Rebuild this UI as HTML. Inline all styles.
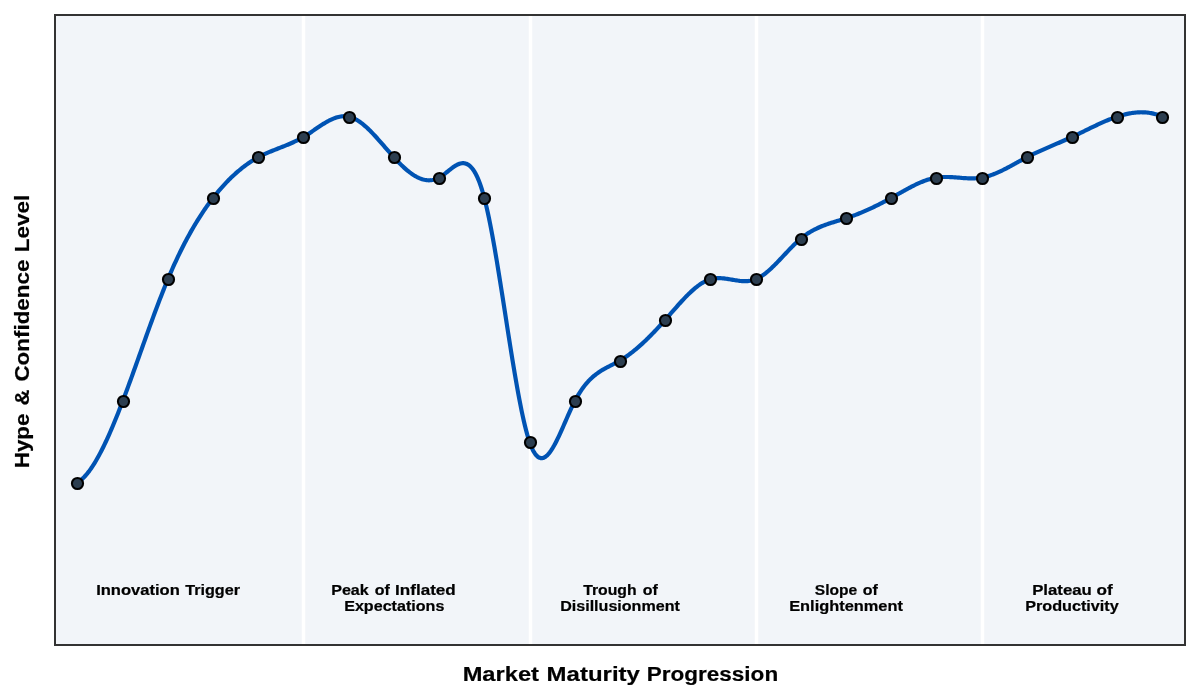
<!DOCTYPE html>
<html><head><meta charset="utf-8"><title>Hype Cycle - Market Maturity Progression</title>
<style>
html,body{margin:0;padding:0;background:#fff;width:1200px;height:700px;overflow:hidden}
svg{display:block}
text{font-family:"Liberation Sans",sans-serif;font-weight:bold;font-size:100px;fill:#000;stroke:#000;stroke-width:1.5px}
text.ax{stroke-width:1.0px}
</style></head><body>
<svg width="1200" height="700" viewBox="0 0 1200 700">
<rect x="0" y="0" width="1200" height="700" fill="#fff"/>
<rect x="54" y="14" width="1132" height="632" fill="#f2f5f9"/>
<rect x="301.76" y="16" width="3.47" height="628" fill="#fff"/>
<rect x="528.76" y="16" width="3.47" height="628" fill="#fff"/>
<rect x="754.76" y="16" width="3.47" height="628" fill="#fff"/>
<rect x="980.76" y="16" width="3.47" height="628" fill="#fff"/>
<polyline points="77.45,482.57 78.58,481.85 79.71,481.05 80.84,480.16 81.97,479.18 83.10,478.12 84.23,476.98 85.36,475.76 86.49,474.47 87.62,473.09 88.75,471.64 89.88,470.12 91.01,468.53 92.14,466.86 93.27,465.13 94.40,463.33 95.53,461.46 96.66,459.54 97.79,457.54 98.92,455.49 100.05,453.38 101.18,451.21 102.31,448.99 103.44,446.71 104.57,444.38 105.70,442.00 106.84,439.57 107.97,437.09 109.10,434.57 110.23,432.00 111.36,429.39 112.49,426.73 113.62,424.04 114.75,421.31 115.88,418.54 117.01,415.74 118.14,412.90 119.27,410.03 120.40,407.13 121.53,404.21 122.66,401.25 123.79,398.27 124.92,395.27 126.05,392.24 127.18,389.20 128.31,386.13 129.44,383.05 130.57,379.95 131.70,376.84 132.83,373.71 133.96,370.58 135.09,367.43 136.22,364.28 137.35,361.12 138.48,357.95 139.61,354.78 140.74,351.61 141.87,348.45 143.00,345.28 144.13,342.11 145.26,338.96 146.39,335.80 147.52,332.66 148.65,329.53 149.78,326.40 150.91,323.29 152.04,320.20 153.17,317.12 154.30,314.05 155.43,311.01 156.56,307.99 157.69,304.99 158.82,302.02 159.95,299.07 161.08,296.15 162.22,293.25 163.35,290.39 164.48,287.56 165.61,284.76 166.74,282.00 167.87,279.28 169.00,276.59 170.13,273.94 171.26,271.33 172.39,268.76 173.52,266.22 174.65,263.72 175.78,261.26 176.91,258.83 178.04,256.44 179.17,254.09 180.30,251.77 181.43,249.48 182.56,247.23 183.69,245.01 184.82,242.82 185.95,240.67 187.08,238.55 188.21,236.46 189.34,234.40 190.47,232.38 191.60,230.39 192.73,228.43 193.86,226.49 194.99,224.59 196.12,222.72 197.25,220.88 198.38,219.06 199.51,217.28 200.64,215.52 201.77,213.79 202.90,212.09 204.03,210.42 205.16,208.77 206.29,207.15 207.42,205.56 208.55,203.99 209.68,202.44 210.81,200.92 211.94,199.43 213.07,197.96 214.20,196.52 215.33,195.09 216.46,193.70 217.59,192.32 218.73,190.97 219.86,189.64 220.99,188.33 222.12,187.05 223.25,185.79 224.38,184.56 225.51,183.34 226.64,182.15 227.77,180.98 228.90,179.83 230.03,178.71 231.16,177.60 232.29,176.52 233.42,175.46 234.55,174.42 235.68,173.40 236.81,172.41 237.94,171.43 239.07,170.48 240.20,169.54 241.33,168.63 242.46,167.73 243.59,166.86 244.72,166.01 245.85,165.18 246.98,164.36 248.11,163.57 249.24,162.80 250.37,162.04 251.50,161.31 252.63,160.60 253.76,159.90 254.89,159.22 256.02,158.56 257.15,157.92 258.28,157.30 259.41,156.70 260.54,156.12 261.67,155.55 262.80,154.99 263.93,154.45 265.06,153.93 266.19,153.41 267.32,152.91 268.45,152.42 269.58,151.94 270.71,151.47 271.84,151.00 272.97,150.54 274.10,150.09 275.24,149.64 276.37,149.19 277.50,148.75 278.63,148.31 279.76,147.87 280.89,147.43 282.02,146.98 283.15,146.54 284.28,146.09 285.41,145.63 286.54,145.18 287.67,144.71 288.80,144.24 289.93,143.76 291.06,143.27 292.19,142.77 293.32,142.26 294.45,141.73 295.58,141.19 296.71,140.64 297.84,140.07 298.97,139.49 300.10,138.89 301.23,138.27 302.36,137.63 303.49,136.97 304.62,136.29 305.75,135.60 306.88,134.88 308.01,134.15 309.14,133.41 310.27,132.66 311.40,131.90 312.53,131.13 313.66,130.36 314.79,129.59 315.92,128.82 317.05,128.05 318.18,127.28 319.31,126.53 320.44,125.78 321.57,125.05 322.70,124.33 323.83,123.62 324.96,122.94 326.09,122.27 327.22,121.63 328.35,121.01 329.48,120.42 330.61,119.86 331.75,119.33 332.88,118.83 334.01,118.37 335.14,117.95 336.27,117.56 337.40,117.22 338.53,116.93 339.66,116.68 340.79,116.48 341.92,116.33 343.05,116.24 344.18,116.20 345.31,116.22 346.44,116.30 347.57,116.44 348.70,116.65 349.83,116.92 350.96,117.25 352.09,117.65 353.22,118.11 354.35,118.63 355.48,119.20 356.61,119.83 357.74,120.51 358.87,121.24 360.00,122.02 361.13,122.84 362.26,123.71 363.39,124.62 364.52,125.57 365.65,126.55 366.78,127.58 367.91,128.63 369.04,129.72 370.17,130.83 371.30,131.97 372.43,133.14 373.56,134.33 374.69,135.54 375.82,136.77 376.95,138.02 378.08,139.28 379.21,140.56 380.34,141.84 381.47,143.13 382.60,144.43 383.73,145.73 384.86,147.04 385.99,148.34 387.12,149.65 388.25,150.94 389.39,152.24 390.52,153.52 391.65,154.80 392.78,156.06 393.91,157.30 395.04,158.53 396.17,159.75 397.30,160.94 398.43,162.11 399.56,163.26 400.69,164.38 401.82,165.48 402.95,166.55 404.08,167.60 405.21,168.61 406.34,169.59 407.47,170.54 408.60,171.45 409.73,172.33 410.86,173.17 411.99,173.97 413.12,174.73 414.25,175.45 415.38,176.13 416.51,176.76 417.64,177.34 418.77,177.88 419.90,178.37 421.03,178.80 422.16,179.19 423.29,179.51 424.42,179.79 425.55,180.01 426.68,180.16 427.81,180.26 428.94,180.30 430.07,180.28 431.20,180.19 432.33,180.03 433.46,179.81 434.59,179.52 435.72,179.15 436.85,178.72 437.98,178.21 439.11,177.63 440.24,176.98 441.37,176.25 442.50,175.48 443.63,174.65 444.76,173.79 445.90,172.90 447.03,172.00 448.16,171.08 449.29,170.18 450.42,169.28 451.55,168.41 452.68,167.57 453.81,166.78 454.94,166.03 456.07,165.36 457.20,164.75 458.33,164.23 459.46,163.80 460.59,163.47 461.72,163.25 462.85,163.16 463.98,163.20 465.11,163.39 466.24,163.72 467.37,164.22 468.50,164.89 469.63,165.74 470.76,166.79 471.89,168.04 473.02,169.50 474.15,171.18 475.28,173.09 476.41,175.25 477.54,177.66 478.67,180.33 479.80,183.27 480.93,186.50 482.06,190.01 483.19,193.83 484.32,197.96 485.45,202.41 486.58,207.16 487.71,212.20 488.84,217.51 489.97,223.07 491.10,228.86 492.23,234.87 493.36,241.09 494.49,247.48 495.62,254.04 496.75,260.75 497.88,267.60 499.01,274.55 500.14,281.60 501.27,288.73 502.41,295.92 503.54,303.16 504.67,310.42 505.80,317.69 506.93,324.96 508.06,332.20 509.19,339.39 510.32,346.53 511.45,353.59 512.58,360.56 513.71,367.41 514.84,374.13 515.97,380.71 517.10,387.13 518.23,393.36 519.36,399.39 520.49,405.21 521.62,410.80 522.75,416.13 523.88,421.20 525.01,425.98 526.14,430.46 527.27,434.62 528.40,438.44 529.53,441.91 530.66,445.01 531.79,447.75 532.92,450.14 534.05,452.20 535.18,453.93 536.31,455.35 537.44,456.46 538.57,457.29 539.70,457.84 540.83,458.12 541.96,458.15 543.09,457.94 544.22,457.49 545.35,456.83 546.48,455.96 547.61,454.89 548.74,453.64 549.87,452.22 551.00,450.64 552.13,448.91 553.26,447.04 554.39,445.05 555.52,442.94 556.65,440.74 557.78,438.44 558.92,436.07 560.05,433.63 561.18,431.13 562.31,428.60 563.44,426.03 564.57,423.44 565.70,420.85 566.83,418.26 567.96,415.69 569.09,413.14 570.22,410.64 571.35,408.18 572.48,405.79 573.61,403.48 574.74,401.25 575.87,399.12 577.00,397.08 578.13,395.14 579.26,393.29 580.39,391.52 581.52,389.83 582.65,388.23 583.78,386.70 584.91,385.25 586.04,383.87 587.17,382.56 588.30,381.31 589.43,380.13 590.56,379.00 591.69,377.93 592.82,376.91 593.95,375.95 595.08,375.03 596.21,374.15 597.34,373.32 598.47,372.52 599.60,371.76 600.73,371.03 601.86,370.33 602.99,369.66 604.12,369.01 605.25,368.38 606.38,367.76 607.51,367.16 608.64,366.57 609.77,365.99 610.90,365.41 612.03,364.84 613.16,364.26 614.30,363.68 615.43,363.09 616.56,362.49 617.69,361.87 618.82,361.24 619.95,360.59 621.08,359.92 622.21,359.23 623.34,358.51 624.47,357.78 625.60,357.02 626.73,356.24 627.86,355.44 628.99,354.62 630.12,353.78 631.25,352.92 632.38,352.04 633.51,351.15 634.64,350.23 635.77,349.30 636.90,348.35 638.03,347.38 639.16,346.40 640.29,345.40 641.42,344.38 642.55,343.35 643.68,342.30 644.81,341.23 645.94,340.16 647.07,339.06 648.20,337.96 649.33,336.84 650.46,335.71 651.59,334.56 652.72,333.40 653.85,332.23 654.98,331.05 656.11,329.85 657.24,328.65 658.37,327.43 659.50,326.21 660.63,324.97 661.76,323.73 662.89,322.47 664.02,321.21 665.15,319.94 666.28,318.66 667.41,317.37 668.54,316.08 669.67,314.78 670.81,313.48 671.94,312.19 673.07,310.89 674.20,309.60 675.33,308.31 676.46,307.02 677.59,305.75 678.72,304.48 679.85,303.23 680.98,301.99 682.11,300.76 683.24,299.55 684.37,298.35 685.50,297.17 686.63,296.02 687.76,294.88 688.89,293.77 690.02,292.69 691.15,291.63 692.28,290.60 693.41,289.60 694.54,288.63 695.67,287.70 696.80,286.80 697.93,285.93 699.06,285.10 700.19,284.32 701.32,283.57 702.45,282.87 703.58,282.21 704.71,281.60 705.84,281.03 706.97,280.52 708.10,280.05 709.23,279.64 710.36,279.28 711.49,278.97 712.62,278.72 713.75,278.52 714.88,278.36 716.01,278.25 717.14,278.18 718.27,278.14 719.40,278.15 720.53,278.18 721.66,278.24 722.79,278.33 723.92,278.44 725.05,278.58 726.18,278.73 727.32,278.89 728.45,279.07 729.58,279.26 730.71,279.45 731.84,279.64 732.97,279.84 734.10,280.03 735.23,280.22 736.36,280.40 737.49,280.56 738.62,280.71 739.75,280.85 740.88,280.96 742.01,281.05 743.14,281.12 744.27,281.15 745.40,281.16 746.53,281.13 747.66,281.06 748.79,280.95 749.92,280.80 751.05,280.60 752.18,280.35 753.31,280.05 754.44,279.69 755.57,279.28 756.70,278.80 757.83,278.27 758.96,277.68 760.09,277.04 761.22,276.34 762.35,275.60 763.48,274.81 764.61,273.98 765.74,273.10 766.87,272.19 768.00,271.24 769.13,270.25 770.26,269.23 771.39,268.19 772.52,267.11 773.65,266.01 774.78,264.89 775.91,263.75 777.04,262.60 778.17,261.42 779.30,260.24 780.43,259.05 781.56,257.84 782.69,256.64 783.83,255.43 784.96,254.22 786.09,253.01 787.22,251.81 788.35,250.61 789.48,249.42 790.61,248.25 791.74,247.09 792.87,245.95 794.00,244.82 795.13,243.72 796.26,242.64 797.39,241.59 798.52,240.57 799.65,239.58 800.78,238.62 801.91,237.70 803.04,236.81 804.17,235.96 805.30,235.14 806.43,234.35 807.56,233.59 808.69,232.87 809.82,232.17 810.95,231.50 812.08,230.85 813.21,230.23 814.34,229.64 815.47,229.07 816.60,228.52 817.73,227.99 818.86,227.48 819.99,226.99 821.12,226.51 822.25,226.05 823.38,225.61 824.51,225.18 825.64,224.77 826.77,224.37 827.90,223.98 829.03,223.59 830.16,223.22 831.29,222.85 832.42,222.50 833.55,222.14 834.68,221.79 835.81,221.45 836.94,221.10 838.07,220.76 839.20,220.42 840.34,220.07 841.47,219.72 842.60,219.37 843.73,219.02 844.86,218.66 845.99,218.29 847.12,217.92 848.25,217.53 849.38,217.14 850.51,216.74 851.64,216.34 852.77,215.92 853.90,215.50 855.03,215.08 856.16,214.64 857.29,214.20 858.42,213.75 859.55,213.29 860.68,212.83 861.81,212.36 862.94,211.88 864.07,211.40 865.20,210.91 866.33,210.41 867.46,209.91 868.59,209.40 869.72,208.88 870.85,208.36 871.98,207.83 873.11,207.29 874.24,206.75 875.37,206.21 876.50,205.65 877.63,205.09 878.76,204.53 879.89,203.96 881.02,203.38 882.15,202.80 883.28,202.22 884.41,201.62 885.54,201.03 886.67,200.42 887.80,199.81 888.93,199.20 890.06,198.58 891.19,197.96 892.32,197.33 893.45,196.70 894.58,196.07 895.71,195.43 896.85,194.79 897.98,194.15 899.11,193.51 900.24,192.87 901.37,192.23 902.50,191.60 903.63,190.97 904.76,190.34 905.89,189.72 907.02,189.10 908.15,188.49 909.28,187.88 910.41,187.29 911.54,186.70 912.67,186.12 913.80,185.56 914.93,185.00 916.06,184.46 917.19,183.92 918.32,183.41 919.45,182.90 920.58,182.42 921.71,181.94 922.84,181.49 923.97,181.05 925.10,180.63 926.23,180.23 927.36,179.85 928.49,179.49 929.62,179.16 930.75,178.84 931.88,178.55 933.01,178.28 934.14,178.04 935.27,177.82 936.40,177.63 937.53,177.47 938.66,177.33 939.79,177.22 940.92,177.13 942.05,177.06 943.18,177.01 944.31,176.98 945.44,176.97 946.57,176.97 947.70,176.99 948.83,177.03 949.96,177.07 951.09,177.13 952.22,177.19 953.36,177.27 954.49,177.35 955.62,177.43 956.75,177.52 957.88,177.61 959.01,177.70 960.14,177.79 961.27,177.88 962.40,177.97 963.53,178.05 964.66,178.13 965.79,178.20 966.92,178.26 968.05,178.31 969.18,178.35 970.31,178.37 971.44,178.39 972.57,178.38 973.70,178.36 974.83,178.32 975.96,178.27 977.09,178.19 978.22,178.09 979.35,177.96 980.48,177.81 981.61,177.63 982.74,177.43 983.87,177.20 985.00,176.94 986.13,176.65 987.26,176.35 988.39,176.02 989.52,175.66 990.65,175.29 991.78,174.89 992.91,174.48 994.04,174.04 995.17,173.59 996.30,173.12 997.43,172.63 998.56,172.13 999.69,171.62 1000.82,171.09 1001.95,170.55 1003.08,170.00 1004.21,169.43 1005.34,168.86 1006.47,168.28 1007.60,167.69 1008.73,167.09 1009.87,166.49 1011.00,165.88 1012.13,165.26 1013.26,164.65 1014.39,164.03 1015.52,163.41 1016.65,162.78 1017.78,162.16 1018.91,161.54 1020.04,160.92 1021.17,160.31 1022.30,159.70 1023.43,159.09 1024.56,158.49 1025.69,157.89 1026.82,157.30 1027.95,156.72 1029.08,156.15 1030.21,155.59 1031.34,155.03 1032.47,154.48 1033.60,153.94 1034.73,153.40 1035.86,152.87 1036.99,152.34 1038.12,151.82 1039.25,151.31 1040.38,150.80 1041.51,150.29 1042.64,149.79 1043.77,149.29 1044.90,148.79 1046.03,148.30 1047.16,147.81 1048.29,147.32 1049.42,146.83 1050.55,146.35 1051.68,145.87 1052.81,145.38 1053.94,144.90 1055.07,144.42 1056.20,143.94 1057.33,143.45 1058.46,142.97 1059.59,142.48 1060.72,142.00 1061.85,141.51 1062.98,141.02 1064.11,140.53 1065.24,140.03 1066.38,139.53 1067.51,139.03 1068.64,138.52 1069.77,138.01 1070.90,137.49 1072.03,136.97 1073.16,136.45 1074.29,135.92 1075.42,135.38 1076.55,134.85 1077.68,134.30 1078.81,133.76 1079.94,133.21 1081.07,132.66 1082.20,132.11 1083.33,131.56 1084.46,131.00 1085.59,130.45 1086.72,129.90 1087.85,129.34 1088.98,128.79 1090.11,128.24 1091.24,127.69 1092.37,127.15 1093.50,126.60 1094.63,126.06 1095.76,125.53 1096.89,125.00 1098.02,124.47 1099.15,123.95 1100.28,123.43 1101.41,122.92 1102.54,122.41 1103.67,121.92 1104.80,121.43 1105.93,120.94 1107.06,120.47 1108.19,120.00 1109.32,119.55 1110.45,119.10 1111.58,118.66 1112.71,118.24 1113.84,117.82 1114.97,117.42 1116.10,117.03 1117.23,116.65 1118.36,116.28 1119.49,115.92 1120.62,115.58 1121.75,115.26 1122.88,114.94 1124.02,114.65 1125.15,114.37 1126.28,114.10 1127.41,113.85 1128.54,113.62 1129.67,113.40 1130.80,113.20 1131.93,113.02 1133.06,112.86 1134.19,112.72 1135.32,112.60 1136.45,112.49 1137.58,112.41 1138.71,112.35 1139.84,112.31 1140.97,112.29 1142.10,112.29 1143.23,112.32 1144.36,112.37 1145.49,112.44 1146.62,112.54 1147.75,112.66 1148.88,112.80 1150.01,112.97 1151.14,113.17 1152.27,113.39 1153.40,113.64 1154.53,113.92 1155.66,114.22 1156.79,114.55 1157.92,114.91 1159.05,115.30 1160.18,115.72 1161.31,116.17 1162.44,116.65" fill="none" stroke="#0053b3" stroke-width="4.17" stroke-linejoin="round" stroke-linecap="butt"/>
<g fill="#2c3e50" stroke="#000" stroke-width="2.08">
<circle cx="77.50" cy="483.50" r="5.55"/>
<circle cx="123.50" cy="401.50" r="5.55"/>
<circle cx="168.50" cy="279.50" r="5.55"/>
<circle cx="213.50" cy="198.50" r="5.55"/>
<circle cx="258.50" cy="157.50" r="5.55"/>
<circle cx="303.50" cy="137.50" r="5.55"/>
<circle cx="349.50" cy="117.50" r="5.55"/>
<circle cx="394.50" cy="157.50" r="5.55"/>
<circle cx="439.50" cy="178.50" r="5.55"/>
<circle cx="484.50" cy="198.50" r="5.55"/>
<circle cx="530.50" cy="442.50" r="5.55"/>
<circle cx="575.50" cy="401.50" r="5.55"/>
<circle cx="620.50" cy="361.50" r="5.55"/>
<circle cx="665.50" cy="320.50" r="5.55"/>
<circle cx="710.50" cy="279.50" r="5.55"/>
<circle cx="756.50" cy="279.50" r="5.55"/>
<circle cx="801.50" cy="239.50" r="5.55"/>
<circle cx="846.50" cy="218.50" r="5.55"/>
<circle cx="891.50" cy="198.50" r="5.55"/>
<circle cx="936.50" cy="178.50" r="5.55"/>
<circle cx="982.50" cy="178.50" r="5.55"/>
<circle cx="1027.50" cy="157.50" r="5.55"/>
<circle cx="1072.50" cy="137.50" r="5.55"/>
<circle cx="1117.50" cy="117.50" r="5.55"/>
<circle cx="1162.50" cy="117.50" r="5.55"/>
</g>
<rect x="55" y="15" width="1130" height="630" fill="none" stroke="#333333" stroke-width="2"/>
<g style="opacity:0.999">
<text transform="matrix(0.16545 0 0 0.14500 96.142 595.000)">Innovation</text>
<text transform="matrix(0.16190 0 0 0.14500 185.138 595.000)">Trigger</text>
<text transform="matrix(0.16106 0 0 0.14500 331.173 595.000)">Peak</text>
<text transform="matrix(0.16000 0 0 0.14500 374.660 595.000)">of</text>
<text transform="matrix(0.17076 0 0 0.14500 395.105 595.000)">Inflated</text>
<text transform="matrix(0.16105 0 0 0.14500 344.173 611.000)">Expectations</text>
<text transform="matrix(0.15783 0 0 0.14500 583.142 595.000)">Trough</text>
<text transform="matrix(0.16000 0 0 0.14500 642.660 595.000)">of</text>
<text transform="matrix(0.16087 0 0 0.14500 560.174 611.000)">Disillusionment</text>
<text transform="matrix(0.15564 0 0 0.14500 814.833 595.000)">Slope</text>
<text transform="matrix(0.16000 0 0 0.14500 862.660 595.000)">of</text>
<text transform="matrix(0.16385 0 0 0.14500 789.153 611.000)">Enlightenment</text>
<text transform="matrix(0.16784 0 0 0.14500 1032.125 595.000)">Plateau</text>
<text transform="matrix(0.17111 0 0 0.14500 1096.616 595.000)">of</text>
<text transform="matrix(0.16211 0 0 0.14500 1025.165 611.000)">Productivity</text>
<text class="ax" transform="matrix(0.23694 0 0 0.20300 462.641 681.000)">Market</text>
<text class="ax" transform="matrix(0.23990 0 0 0.20300 546.621 681.000)">Maturity</text>
<text class="ax" transform="matrix(0.22526 0 0 0.20300 646.723 681.000)">Progression</text>
<text class="ax" transform="matrix(0 -0.22479 0.20300 0 29.000 252.274)">Level</text>
<text class="ax" transform="matrix(0 -0.22421 0.20300 0 29.000 381.597)">Confidence</text>
<text class="ax" transform="matrix(0 -0.22154 0.20300 0 29.000 405.586)">&amp;</text>
<text class="ax" transform="matrix(0 -0.22393 0.20300 0 29.000 468.268)">Hype</text>
</g>
</svg>
</body></html>
